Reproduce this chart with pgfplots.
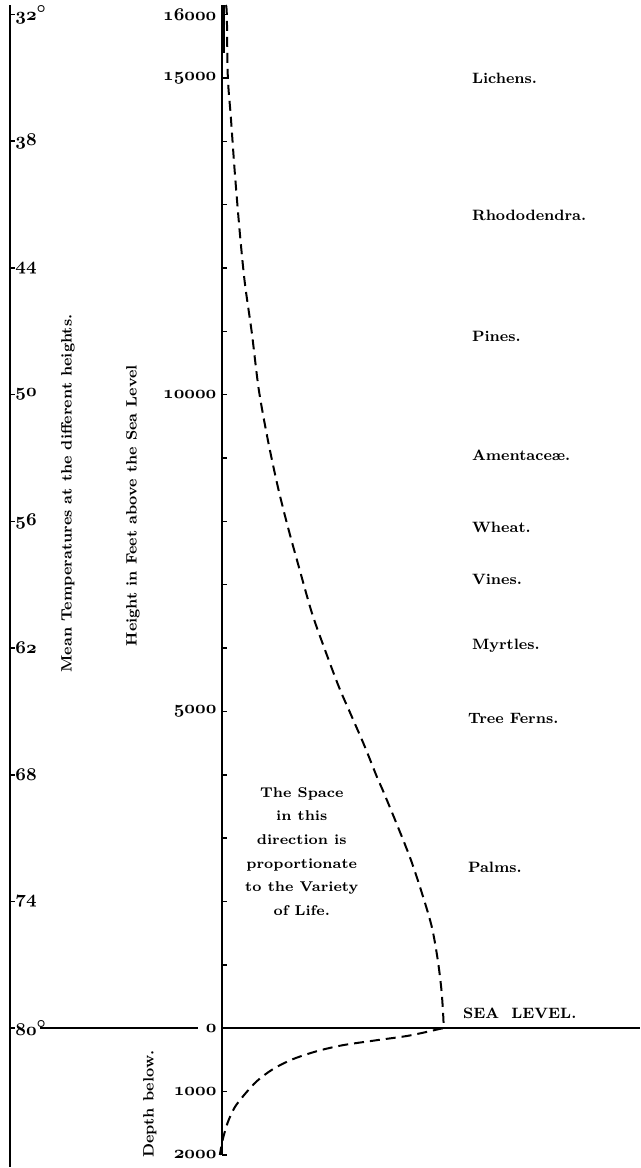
\documentclass[border=0pt]{standalone}
\usepackage{pgfplots}
\pgfplotsset{compat=1.18}
\newcommand{\osn}[1]{{\boldmath$\mathnormal{#1}$}}
\begin{document}
\begin{tikzpicture}
\begin{axis}[
  scale only axis, width=320pt, height=584pt,
  xmin=-222, xmax=418, ymin=-2192, ymax=16230,
  hide axis, clip=false,
]
\path (axis cs:-222,-2192) rectangle (axis cs:418,16230);
% temperature line
\draw[line width=0.9pt] (axis cs:-212,16150) -- (axis cs:-212,-2192);
% main height axis
\draw[line width=0.9pt] (axis cs:0,16150) -- (axis cs:0,-2000);
\draw[line width=1.6pt] (axis cs:2,16150) -- (axis cs:2,15400);
% sea level line
\draw[line width=0.9pt] (axis cs:-182,0) -- (axis cs:-24,0);
\draw[line width=0.9pt] (axis cs:0,0) -- (axis cs:418,0);
% height ticks
\pgfplotsinvokeforeach{-2000,-1000,1000,2000,3000,4000,5000,6000,7000,8000,9000,10000,11000,12000,13000,14000,15000,16000}{
  \draw[line width=0.7pt] (axis cs:0,#1) -- (axis cs:5,#1);
}
% temperature ticks
\pgfplotsinvokeforeach{0,2000,4000,6000,8000,10000,12000,14000,16000}{
  \draw[line width=0.8pt] (axis cs:-212,#1) -- (axis cs:-207,#1);
}
\begin{scope}[every node/.style={font=\fontsize{9.5}{11}\selectfont, inner sep=0pt}]
\node[anchor=east] at (axis cs:-5,16000) {\osn{16000}};
\node[anchor=east] at (axis cs:-5,15000) {\osn{15000}};
\node[anchor=east] at (axis cs:-5,10000) {\osn{10000}};
\node[anchor=east] at (axis cs:-5,5000) {\osn{5000}};
\node[anchor=east] at (axis cs:-5,0) {\osn{0}};
\node[anchor=east] at (axis cs:-5,-1000) {\osn{1000}};
\node[anchor=east] at (axis cs:-5,-2000) {\osn{2000}};
\node[anchor=west] at (axis cs:-207,16000) {\osn{32^{\circ}}};
\node[anchor=west] at (axis cs:-207,14000) {\osn{38}};
\node[anchor=west] at (axis cs:-207,12000) {\osn{44}};
\node[anchor=west] at (axis cs:-207,10000) {\osn{50}};
\node[anchor=west] at (axis cs:-207,8000) {\osn{56}};
\node[anchor=west] at (axis cs:-207,6000) {\osn{62}};
\node[anchor=west] at (axis cs:-207,4000) {\osn{68}};
\node[anchor=west] at (axis cs:-207,2000) {\osn{74}};
\node[anchor=west] at (axis cs:-207,0) {\osn{80^{\circ}}};
\end{scope}
\begin{scope}[every node/.style={font=\bfseries\fontsize{7.5}{11.8}\selectfont, inner sep=0pt, anchor=west}]
\node at (axis cs:250,15000) {Lichens.};
\node at (axis cs:250,12823) {Rhododendra.};
\node at (axis cs:250,10915) {Pines.};
\node at (axis cs:250,9038) {Amentace\ae.};
\node at (axis cs:250,7902) {Wheat.};
\node at (axis cs:250,7082) {Vines.};
\node at (axis cs:250,6041) {Myrtles.};
\node at (axis cs:246,4890) {Tree Ferns.};
\node at (axis cs:246,2539) {Palms.};
\node at (axis cs:241,230) {SEA\ \ LEVEL.};
\node[rotate=90, anchor=center] at (axis cs:-154,8440) {Mean Temperatures at the different heights.};
\node[rotate=90, anchor=center] at (axis cs:-89,8250) {Height in Feet above the Sea Level};
\node[rotate=90, anchor=center] at (axis cs:-72,-1199) {Depth below.};
\end{scope}
\node[font=\bfseries\fontsize{7.1}{11.8}\selectfont, inner sep=0pt, align=center, anchor=center] at (axis cs:80,2792) {The Space\\in this\\direction is\\proportionate\\to the Variety\\of Life.};
% curve above sea level
\addplot[line width=1pt, dash pattern=on 5pt off 3pt, smooth, tension=0.5] coordinates {
(4,16150) (5,16000) (6,15016) (9,14385) (13,13502) (18,12555) (23,11767)
(30,10978) (37,10079) (46,9290) (56,8549) (66,7918) (77,7287) (90,6562)
(102,6025) (117,5394) (130,4921) (143,4448) (155,3975) (162,3722) (176,3186)
(189,2666) (200,2145) (210,1609) (216,1088) (220,568) (222,47) (221,0)
};
% curve below sea level
\addplot[line width=1pt, dash pattern=on 5pt off 3pt, smooth, tension=0.5] coordinates {
(221,0) (188,-115) (155,-189) (121,-268) (95,-363) (71,-489) (51,-647)
(35,-836) (23,-1041) (13,-1246) (6,-1483) (1,-1751) (-2,-2000)
};
\end{axis}
\end{tikzpicture}
\end{document}
